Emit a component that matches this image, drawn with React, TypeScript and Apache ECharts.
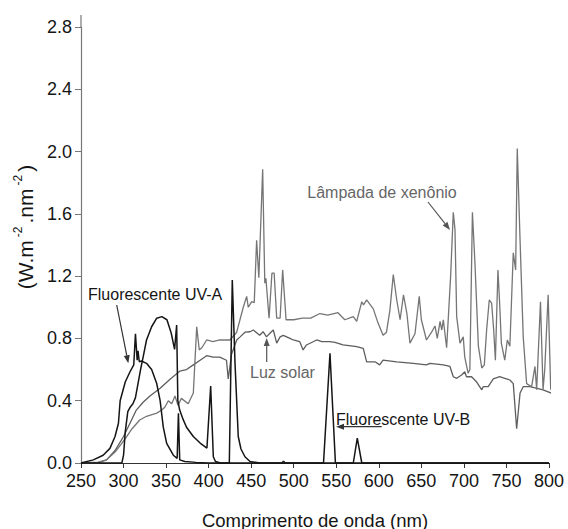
import React, { useEffect, useRef } from "react";
import * as echarts from "echarts";

// ---- Data ----
const xTicks = [250, 300, 350, 400, 450, 500, 550, 600, 650, 700, 750, 800];
const yTicks = [0, 0.4, 0.8, 1.2, 1.6, 2.0, 2.4, 2.8];

// Lâmpada de xenônio
const xenonNm = [250, 270, 280, 290, 297, 303.7, 310, 319, 327, 339, 345, 348.7, 352.6, 356.6, 360.5, 364, 368, 376, 382, 386, 389, 392, 397.7, 405, 413, 425, 433, 440.7, 444.7, 446.6, 450.6, 453.6, 456.4, 459, 463.5, 466, 467.3, 471, 474.4, 477, 480, 484, 487, 491, 500, 510, 520, 530.8, 540, 552, 560, 570, 574, 580, 582, 585.7, 593.5, 599, 605, 609, 613, 617, 621, 625, 629, 633, 636.6, 642.5, 647.5, 650, 656, 662, 666, 668.7, 672, 674, 675.8, 679.7, 684.4, 687.5, 689.5, 691.5, 695.4, 699.2, 701, 705, 707, 710, 713, 717, 721, 724, 726.7, 729.8, 732.6, 735, 737, 740, 742, 744, 748, 751, 754, 758, 760.8, 762.7, 766, 769.7, 773.7, 779.6, 783.5, 785.5, 790, 793, 795, 799, 802];
const xenonVal = [0, 0.005, 0.02, 0.07, 0.12, 0.17, 0.22, 0.276, 0.3, 0.32, 0.34, 0.36, 0.4, 0.38, 0.43, 0.37, 0.415, 0.38, 0.45, 0.875, 0.726, 0.74, 0.79, 0.78, 0.79, 0.79, 0.84, 1.0, 1.07, 1.0, 1.036, 1.03, 1.43, 1.19, 1.886, 1.155, 1.186, 0.93, 1.22, 1.22, 0.93, 0.93, 1.24, 0.92, 0.92, 0.93, 0.93, 0.96, 0.95, 0.965, 0.92, 0.94, 0.91, 1.036, 1.015, 1.047, 0.99, 0.9, 0.82, 0.84, 0.98, 1.21, 1.05, 0.92, 1.08, 0.96, 0.77, 0.83, 1.07, 0.92, 0.79, 0.84, 0.88, 0.8, 0.91, 0.854, 0.92, 0.74, 1.2, 1.61, 1.5, 0.94, 0.77, 0.81, 0.68, 0.576, 0.6, 1.61, 1.28, 0.75, 0.61, 0.63, 0.854, 1.047, 1.026, 0.854, 0.66, 1.24, 1.026, 0.77, 0.66, 0.79, 0.75, 1.35, 1.24, 2.02, 1.43, 0.81, 0.51, 0.49, 0.62, 0.47, 1.036, 0.47, 0.6, 1.08, 0.47];

// Luz solar
const solarNm = [250, 270, 280, 290, 300, 308, 315, 323, 331, 343, 355, 366, 374, 382, 390, 398, 405, 413, 421, 423, 427, 433, 437, 442.7, 448.6, 452.5, 460, 464, 468, 472, 476, 480, 484, 487.7, 495.6, 499.5, 507, 511, 515, 527, 533, 542.6, 548.5, 558, 574, 581.7, 585.7, 595.5, 601, 605, 621, 640.5, 656, 660, 675.8, 683.6, 687.5, 691.5, 697.3, 701, 703, 709, 715, 721, 722.7, 728.6, 734.5, 742, 748, 754, 758, 762, 766, 769.7, 777.6, 793, 803];
const solarVal = [0, 0, 0.02, 0.08, 0.17, 0.26, 0.34, 0.39, 0.43, 0.48, 0.54, 0.59, 0.6, 0.63, 0.66, 0.69, 0.68, 0.68, 0.66, 0.54, 0.7, 0.79, 0.81, 0.84, 0.843, 0.854, 0.82, 0.843, 0.81, 0.833, 0.854, 0.77, 0.81, 0.82, 0.8, 0.79, 0.78, 0.726, 0.758, 0.79, 0.78, 0.78, 0.775, 0.758, 0.747, 0.736, 0.65, 0.65, 0.63, 0.66, 0.65, 0.64, 0.63, 0.64, 0.63, 0.62, 0.554, 0.544, 0.565, 0.586, 0.554, 0.554, 0.52, 0.47, 0.49, 0.49, 0.54, 0.554, 0.544, 0.533, 0.51, 0.22, 0.45, 0.49, 0.49, 0.47, 0.448];

// Fluorescente UV-A (curve peaking near 320 nm)
const uvaNm = [250, 264.5, 276, 284, 290, 294, 296, 298, 302, 307.6, 312, 314, 316, 317, 318.5, 321, 327, 333, 339, 343, 346.7, 350.7, 358.5, 363, 364.5, 366, 372, 385, 400, 800];
const uvaVal = [0, 0.02, 0.05, 0.094, 0.17, 0.255, 0.4, 0.44, 0.52, 0.586, 0.63, 0.83, 0.66, 0.72, 0.65, 0.655, 0.64, 0.6, 0.51, 0.4, 0.23, 0.126, 0.05, 0.03, 0.32, 0.02, 0.01, 0.004, 0, 0];

// Fluorescente UV-B (curve peaking near 345 nm, with emission lines)
const uvbNm = [250, 298, 300, 302, 305, 308, 311, 314, 317, 320, 323, 327, 333, 339, 345, 351, 356, 360, 362.4, 363.8, 366, 370, 374, 382, 390, 398, 402.4, 405.5, 408, 414, 424.3, 427.8, 431, 434.8, 438, 442.7, 448.6, 460, 486, 488, 490, 535, 542.6, 549, 570, 574.7, 580, 800];
const uvbVal = [0, 0, 0.05, 0.2, 0.33, 0.36, 0.38, 0.42, 0.51, 0.6, 0.68, 0.79, 0.875, 0.93, 0.94, 0.92, 0.835, 0.73, 0.886, 0.4, 0.34, 0.28, 0.23, 0.17, 0.128, 0.096, 0.495, 0.04, 0.01, 0, 0, 1.175, 0.64, 0.17, 0.09, 0.04, 0.01, 0, 0, 0.012, 0, 0, 0.705, 0, 0, 0.16, 0, 0];

const zip = (xs: number[], ys: number[]) => xs.map((x, i) => [x, ys[i]]);

function arrow(x1: number, y1: number, x2: number, y2: number, color: string) {
  const a = Math.atan2(y2 - y1, x2 - x1);
  const c = Math.cos(a);
  const s = Math.sin(a);
  const L = 8;
  const W = 3;
  const bx = x2 - L * c;
  const by = y2 - L * s;
  return [
    { type: "line", shape: { x1, y1, x2: bx, y2: by }, style: { stroke: color, lineWidth: 1.2 } },
    {
      type: "polygon",
      shape: { points: [[x2, y2], [bx - W * s, by + W * c], [bx + W * s, by - W * c]] },
      style: { fill: color },
    },
  ];
}

export default function App() {
  const ref = useRef<HTMLDivElement>(null);
  useEffect(() => {
    if (!ref.current) return;
    const chart = echarts.init(ref.current, undefined, { renderer: "svg" });
    const font = "'Liberation Sans', Arial, sans-serif";
    const black = "#151515";
    const lineSeries = (name: string, data: number[][], color: string, w: number) => ({
      name,
      type: "line",
      data,
      showSymbol: false,
      clip: false,
      silent: true,
      lineStyle: { color, width: w },
      itemStyle: { color },
    });
    chart.setOption({
      animation: false,
      backgroundColor: "#ffffff",
      grid: { left: 81, top: 27, width: 468, height: 436 },
      xAxis: {
        type: "value",
        min: 250,
        max: 800,
        interval: 50,
        axisLine: { lineStyle: { color: "#333", width: 1.2 } },
        axisTick: { show: true, length: 5, lineStyle: { color: "#333" } },
        splitLine: { show: false },
        axisLabel: {
          color: black,
          fontFamily: font,
          fontSize: 18,
          margin: 9,
          formatter: (v: number) => (xTicks.includes(v) ? String(v) : ""),
        },
      },
      yAxis: {
        type: "value",
        min: 0,
        max: 2.8,
        interval: 0.4,
        axisLine: { show: true, lineStyle: { color: "#777", width: 1.2 } },
        axisTick: { show: true, length: 6, lineStyle: { color: "#777" } },
        splitLine: { show: false },
        axisLabel: {
          color: black,
          fontFamily: font,
          fontSize: 18,
          margin: 9,
          formatter: (v: number) => {
            const m = yTicks.find((t) => Math.abs(t - v) < 1e-6);
            return m === undefined ? "" : m.toFixed(1);
          },
        },
      },
      series: [
        lineSeries("Luz solar", zip(solarNm, solarVal), "#5e5e5e", 1.3),
        lineSeries("Lâmpada de xenônio", zip(xenonNm, xenonVal), "#757575", 1.3),
        lineSeries("Fluorescente UV-A", zip(uvaNm, uvaVal), black, 1.5),
        lineSeries("Fluorescente UV-B", zip(uvbNm, uvbVal), black, 1.5),
      ],
      graphic: [
        { type: "line", shape: { x1: 81, y1: 15, x2: 81, y2: 27 }, style: { stroke: "#777", lineWidth: 1.2 } },
        {
          type: "text",
          x: 315,
          y: 520,
          style: {
            text: "Comprimento de onda (nm)",
            fontFamily: font,
            fontSize: 18.5,
            fill: black,
            textAlign: "center",
            textVerticalAlign: "middle",
          },
        },
        {
          type: "text",
          x: 24,
          y: 227,
          rotation: Math.PI / 2,
          style: {
            text: "{n|(W.m}{s|-2}{n|.nm}{s|-2}{n|)}",
            fontFamily: font,
            textAlign: "center",
            textVerticalAlign: "middle",
            rich: {
              n: { fontSize: 21, fontFamily: font, fill: black, lineHeight: 24, verticalAlign: "bottom" },
              s: { fontSize: 12, fontFamily: font, fill: black, lineHeight: 24, verticalAlign: "top", padding: [0, 3, 0, 3] },
            },
          },
        },
        {
          type: "text",
          x: 88,
          y: 294,
          style: { text: "Fluorescente UV-A", fontFamily: font, fontSize: 16, fill: black, textVerticalAlign: "middle" },
        },
        ...arrow(116.7, 305, 128.3, 363.3, "#333"),
        {
          type: "text",
          x: 382,
          y: 192,
          style: { text: "Lâmpada de xenônio", fontFamily: font, fontSize: 16, fill: "#666", textAlign: "center", textVerticalAlign: "middle" },
        },
        ...arrow(428, 202, 450, 230, "#555"),
        {
          type: "text",
          x: 250,
          y: 372,
          style: { text: "Luz solar", fontFamily: font, fontSize: 16, fill: "#666", textVerticalAlign: "middle" },
        },
        ...arrow(266.7, 362, 266.7, 338, "#555"),
        {
          type: "text",
          x: 336,
          y: 419,
          style: { text: "Fluorescente UV-B", fontFamily: font, fontSize: 16, fill: black, textVerticalAlign: "middle" },
        },
        ...arrow(381.7, 426.7, 336, 426.7, "#333"),
      ],
    });
    return () => chart.dispose();
  }, []);
  return (
    <div
      ref={ref}
      style={{ position: "absolute", left: 0, top: 0, width: 568, height: 529, background: "#fff" }}
    />
  );
}
